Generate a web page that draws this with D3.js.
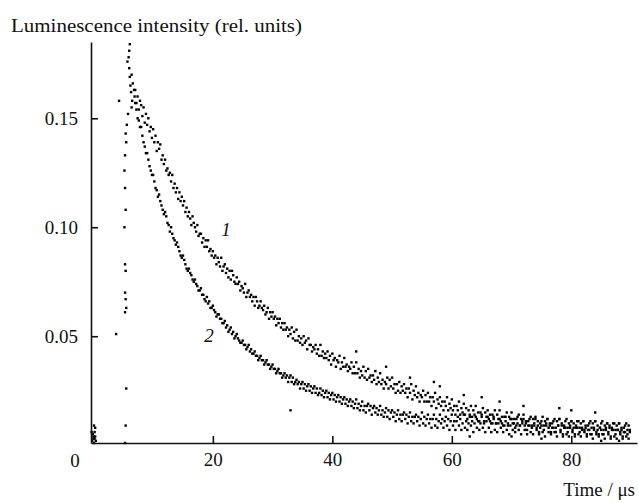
<!DOCTYPE html>
<html>
<head>
<meta charset="utf-8">
<script src="https://cdn.jsdelivr.net/npm/d3@7"></script>
<style>
  body { margin: 0; background: #fff; }
  text { font-family: "Liberation Serif", "Times New Roman", serif; fill: #111; }
</style>
</head>
<body>
<div id="chart"></div>
<script>
const width = 639
const height = 503

// sampling grid of the two decays (µs)
const t0 = 7
const dt = 0.2

// curve 1, 5 samples per µs from 7 µs
const curve1 = [
  .163,.157,.160,.154,.158, .156,.151,.155,.148,.152, .147,.150,.144,.146,.141, .145,.139,.142,.135,.139,
  .136,.138,.131,.133,.129, .131,.126,.127,.124,.125, .121,.124,.118,.120,.116, .118,.113,.116,.112,.114,
  .110,.112,.107,.109,.105, .107,.104,.101,.105,.102, .100,.098,.101,.096,.097, .097,.093,.095,.091,.094,
  .091,.094,.089,.090,.087, .089,.086,.087,.083,.086, .084,.082,.086,.080,.082, .083,.079,.081,.077,.080,
  .076,.080,.078,.075,.074, .077,.074,.075,.071,.073, .072,.070,.074,.068,.070, .071,.068,.069,.066,.068,
  .064,.068,.066,.063,.064, .066,.063,.062,.064,.060, .061,.063,.058,.061,.059, .061,.058,.059,.055,.058,
  .056,.058,.054,.056,.053, .056,.053,.054,.050,.053, .051,.054,.049,.052,.048, .053,.048,.050,.047,.049,
  .046,.050,.047,.048,.044, .049,.046,.046,.043,.045, .044,.046,.042,.044,.041, .046,.041,.043,.040,.042,
  .040,.043,.039,.041,.037, .042,.039,.040,.036,.039, .038,.041,.035,.038,.036, .040,.036,.037,.034,.036,
  .035,.038,.033,.036,.033, .038,.033,.035,.031,.034, .032,.036,.031,.034,.030, .035,.031,.032,.029,.032,
  .030,.034,.028,.031,.029, .033,.028,.030,.026,.029, .028,.031,.026,.030,.027, .031,.026,.028,.024,.028,
  .025,.029,.024,.027,.025, .028,.024,.026,.022,.026, .024,.028,.021,.025,.023, .027,.022,.024,.020,.023,
  .022,.025,.020,.023,.020, .024,.020,.022,.018,.022, .020,.024,.017,.021,.019, .022,.018,.020,.016,.020,
  .018,.022,.016,.019,.017, .021,.016,.018,.014,.018, .016,.020,.014,.017,.015, .019,.014,.017,.012,.016,
  .014,.018,.013,.016,.014, .018,.012,.015,.011,.015, .013,.017,.011,.015,.013, .016,.012,.014,.010,.014,
  .012,.016,.010,.014,.012, .016,.011,.013,.009,.013, .011,.015,.009,.013,.012, .015,.010,.012,.008,.012,
  .010,.014,.009,.012,.011, .014,.009,.011,.007,.011, .009,.013,.008,.012,.010, .013,.008,.011,.006,.010,
  .009,.013,.007,.011,.010, .012,.008,.010,.006,.010, .008,.012,.006,.011,.009, .012,.007,.010,.005,.009,
  .008,.012,.006,.010,.009, .011,.007,.010,.005,.009, .008,.011,.006,.010,.008, .011,.007,.009,.005,.009,
  .007,.011,.005,.010,.008, .011,.006,.009,.005,.008, .007,.011,.005,.009,.008, .010,.006,.009,.004,.008,
  .007,.010,.005,.009,.007, .010,.006,.008,.004,.008, .006,.010,.005,.009,.007
]

// curve 2
const curve2 = [
  .157,.154,.150,.149,.146, .146,.142,.139,.137,.134, .134,.131,.128,.126,.124, .124,.121,.118,.117,.114,
  .115,.112,.110,.108,.106, .107,.105,.102,.101,.098, .100,.097,.095,.094,.092, .093,.091,.089,.087,.086,
  .087,.085,.083,.081,.080, .081,.079,.078,.076,.075, .076,.074,.073,.071,.071, .072,.069,.069,.067,.066,
  .068,.065,.066,.063,.063, .064,.062,.061,.059,.060, .060,.058,.058,.056,.056, .057,.054,.055,.052,.053,
  .054,.051,.052,.049,.050, .051,.049,.048,.047,.047, .048,.046,.046,.044,.045, .046,.043,.044,.042,.042,
  .043,.041,.041,.039,.040, .041,.039,.039,.037,.038, .039,.037,.037,.035,.036, .037,.035,.035,.033,.034,
  .035,.033,.033,.031,.032, .033,.031,.032,.029,.031, .032,.029,.031,.028,.029, .030,.028,.029,.026,.028,
  .029,.026,.028,.025,.027, .028,.025,.027,.024,.026, .027,.024,.026,.023,.024, .026,.023,.025,.022,.024,
  .025,.022,.024,.021,.023, .024,.021,.023,.020,.022, .023,.020,.022,.019,.021, .022,.019,.021,.018,.020,
  .021,.018,.020,.017,.019, .021,.017,.019,.016,.018, .020,.016,.018,.015,.018, .019,.016,.018,.014,.017,
  .018,.015,.017,.014,.016, .018,.014,.016,.013,.015, .017,.013,.016,.012,.015, .016,.013,.015,.011,.014,
  .016,.012,.014,.011,.014, .015,.012,.014,.010,.013, .015,.011,.013,.010,.013, .014,.011,.013,.009,.012,
  .015,.010,.013,.009,.012, .014,.010,.012,.008,.012, .014,.009,.012,.008,.011, .014,.010,.012,.008,.011,
  .013,.009,.012,.007,.011, .014,.009,.011,.007,.011, .013,.009,.012,.007,.010, .014,.008,.011,.007,.010,
  .013,.009,.011,.006,.010, .013,.008,.011,.007,.010, .014,.008,.010,.006,.011, .013,.008,.011,.006,.010,
  .013,.007,.010,.006,.010, .012,.008,.010,.006,.009, .013,.007,.010,.005,.009, .012,.007,.010,.006,.009,
  .013,.007,.009,.005,.010, .012,.007,.010,.005,.009, .012,.006,.009,.005,.009, .012,.007,.009,.005,.008,
  .011,.006,.009,.004,.009, .012,.006,.009,.005,.008, .011,.006,.008,.004,.009, .012,.006,.009,.004,.008,
  .011,.005,.008,.004,.008, .011,.006,.008,.004,.008, .011,.005,.008,.004,.007, .011,.006,.008,.004,.007,
  .010,.005,.008,.003,.007, .011,.005,.007,.004,.008, .010,.005,.007,.003,.007, .010,.005,.008,.003,.007,
  .010,.004,.007,.003,.007, .010,.005,.007,.003,.006, .009,.004,.007,.003,.006
]

// baseline before the pulse, the rising edge and stray points
const extraTime = [
  -0.2, 0, 0.1, -0.3, 0.2, 0.3, 0.1, -0.1, 0.4, 0.2, 0, 0.3,
  5.3, 5.4, 5.5, 3.8, 5.3, 5.5, 5.4, 5.3, 5.4, 5.3, 5.2, 5.4, 5.3, 5.2, 5.3, 5.5, 5.4, 4.3,
  5.6, 5.8, 5.9, 6.1, 6.0, 5.7, 6.0, 6.1, 6.2, 6.4, 6.3, 6.6, 6.5, 6.8, 6.9, 6.4,
  53, 57, 49, 65, 72, 78, 84, 62, 68, 85, 88, 75, 33, 44, 58, 80, 70, 63
]
const extraValue = [
  .002, .004, .001, .006, .003, .008, .009, .005, .002, .006, .003, .004,
  .001, .009, .026, .051, .061, .063, .067, .070, .080, .083, .100, .108, .118, .126, .133, .139, .143, .158,
  .147, .152, .178, .184, .181, .176, .173, .169, .165, .170, .162, .166, .158, .163, .160, .155,
  .031, .029, .036, .022, .018, .017, .015, .023, .020, .002, .002, .003, .016, .043, .027, .016, .004, .004
]

const yTicks = [0.05, 0.10, 0.15]
const xTicks = [20, 40, 60, 80]

const points = []
curve1.forEach((v, i) => points.push([t0 + i * dt, v]))
curve2.forEach((v, i) => points.push([t0 + i * dt, v]))
extraTime.forEach((t, i) => points.push([t, extraValue[i]]))

const svg = d3.select('#chart')
            .append('svg')
            .attr('width', width)
            .attr('height', height)

const xScale = d3.scaleLinear().domain([-0.4, 91]).range([91, 637])
const yScale = d3.scaleLinear().domain([0.001, 0.185]).range([443, 42])

const dot = 2.4
svg.append('g')
   .selectAll('rect')
   .data(points)
   .enter()
   .append('rect')
   .attr('x', d => xScale(d[0]) - dot / 2)
   .attr('y', d => yScale(d[1]) - dot / 2)
   .attr('width', dot)
   .attr('height', dot)
   .attr('fill', '#000')

const yAxis = d3.axisLeft(yScale)
                .tickValues(yTicks)
                .tickFormat(d3.format('.2f'))
                .tickSize(-7)
                .tickSizeOuter(0)
                .tickPadding(13)

const xAxis = d3.axisBottom(xScale)
                .tickValues(xTicks)
                .tickSize(-7)
                .tickSizeOuter(0)
                .tickPadding(10)

const gy = svg.append('g')
   .attr('transform', `translate(${xScale.range()[0]},0)`)
   .call(yAxis)

const gx = svg.append('g')
   .attr('transform', `translate(0,${yScale.range()[0]})`)
   .call(xAxis)

for (const g of [gx, gy]) {
    g.select('.domain').attr('stroke', '#111').attr('stroke-width', 1.6)
    g.selectAll('.tick line').attr('stroke', '#111').attr('stroke-width', 1.6)
    g.selectAll('.tick text')
     .style('font-family', '"Liberation Serif", serif')
     .style('font-size', '19px')
     .attr('fill', '#111')
}

// "0" sits left of the y axis
svg.append('text')
   .attr('x', 75)
   .attr('y', 467)
   .attr('text-anchor', 'middle')
   .style('font-size', '19px')
   .text('0')

svg.append('text')
   .attr('x', 11)
   .attr('y', 32)
   .attr('textLength', 291)
   .attr('lengthAdjust', 'spacingAndGlyphs')
   .style('font-size', '18px')
   .text('Luminescence intensity (rel. units)')

svg.append('text')
   .attr('x', 635)
   .attr('y', 496)
   .attr('text-anchor', 'end')
   .style('font-size', '19px')
   .text('Time / μs')

svg.append('text')
   .attr('x', 226)
   .attr('y', 236)
   .attr('text-anchor', 'middle')
   .style('font-size', '19px')
   .style('font-style', 'italic')
   .text('1')

svg.append('text')
   .attr('x', 209)
   .attr('y', 342)
   .attr('text-anchor', 'middle')
   .style('font-size', '19px')
   .style('font-style', 'italic')
   .text('2')
</script>
</body>
</html>
